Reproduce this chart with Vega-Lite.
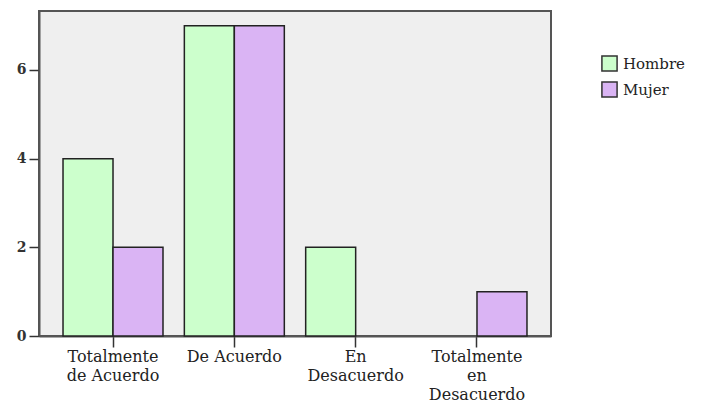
{
  "$schema": "https://vega.github.io/schema/vega-lite/v6.json",
  "autosize": "none",
  "padding": {"left": 39, "top": 11, "right": 153, "bottom": 69},
  "width": 512,
  "height": 325,
  "background": "white",
  "config": {
    "view": {"fill": "#efefef", "stroke": "#555555", "strokeWidth": 2},
    "font": "DejaVu Serif"
  },
  "data": {
    "values": [
      {"categoria": "Totalmente|de Acuerdo", "sexo": "Hombre", "n": 4},
      {"categoria": "Totalmente|de Acuerdo", "sexo": "Mujer", "n": 2},
      {"categoria": "De Acuerdo", "sexo": "Hombre", "n": 7},
      {"categoria": "De Acuerdo", "sexo": "Mujer", "n": 7},
      {"categoria": "En|Desacuerdo", "sexo": "Hombre", "n": 2},
      {"categoria": "En|Desacuerdo", "sexo": "Mujer", "n": 0},
      {"categoria": "Totalmente|en|Desacuerdo", "sexo": "Hombre", "n": 0},
      {"categoria": "Totalmente|en|Desacuerdo", "sexo": "Mujer", "n": 1}
    ]
  },
  "transform": [{"filter": "datum.n > 0"}],
  "mark": {"type": "bar", "stroke": "#222222", "strokeWidth": 1.5},
  "encoding": {
    "x": {
      "field": "categoria",
      "type": "nominal",
      "sort": ["Totalmente|de Acuerdo", "De Acuerdo", "En|Desacuerdo", "Totalmente|en|Desacuerdo"],
      "scale": {"domain": ["Totalmente|de Acuerdo", "De Acuerdo", "En|Desacuerdo", "Totalmente|en|Desacuerdo"], "paddingInner": 0.176, "paddingOuter": 0.198},
      "axis": {
        "title": null,
        "labelAngle": 0,
        "labelExpr": "split(datum.label, '|')",
        "labelFont": "DejaVu Serif",
        "labelFontSize": 16,
        "labelColor": "#222222",
        "labelLineHeight": 19,
        "labelPadding": 1,
        "tickSize": 11,
        "tickColor": "#333333",
        "tickWidth": 1.5,
        "domainColor": "#555555",
        "domainWidth": 2
      }
    },
    "xOffset": {"field": "sexo", "type": "nominal", "sort": ["Hombre", "Mujer"], "scale": {"domain": ["Hombre", "Mujer"]}},
    "y": {
      "field": "n",
      "type": "quantitative",
      "scale": {"domain": [0, 7.33], "nice": false},
      "axis": {
        "title": null,
        "values": [0, 2, 4, 6],
        "grid": false,
        "labelFont": "DejaVu Serif",
        "labelFontSize": 14,
        "labelFontWeight": "bold",
        "labelColor": "#333333",
        "labelPadding": 3,
        "tickSize": 10,
        "tickColor": "#333333",
        "tickWidth": 1.5,
        "domainColor": "#555555",
        "domainWidth": 2
      }
    },
    "color": {
      "field": "sexo",
      "type": "nominal",
      "scale": {"domain": ["Hombre", "Mujer"], "range": ["#ccffcc", "#dab4f4"]},
      "legend": {
        "title": null,
        "orient": "none",
        "legendX": 562,
        "legendY": 44,
        "symbolType": "square",
        "symbolSize": 230,
        "symbolStrokeColor": "#333333",
        "symbolStrokeWidth": 1.5,
        "labelFont": "DejaVu Serif",
        "labelFontSize": 15,
        "labelColor": "#222222",
        "rowPadding": 3,
        "labelOffset": 5
      }
    }
  }
}
